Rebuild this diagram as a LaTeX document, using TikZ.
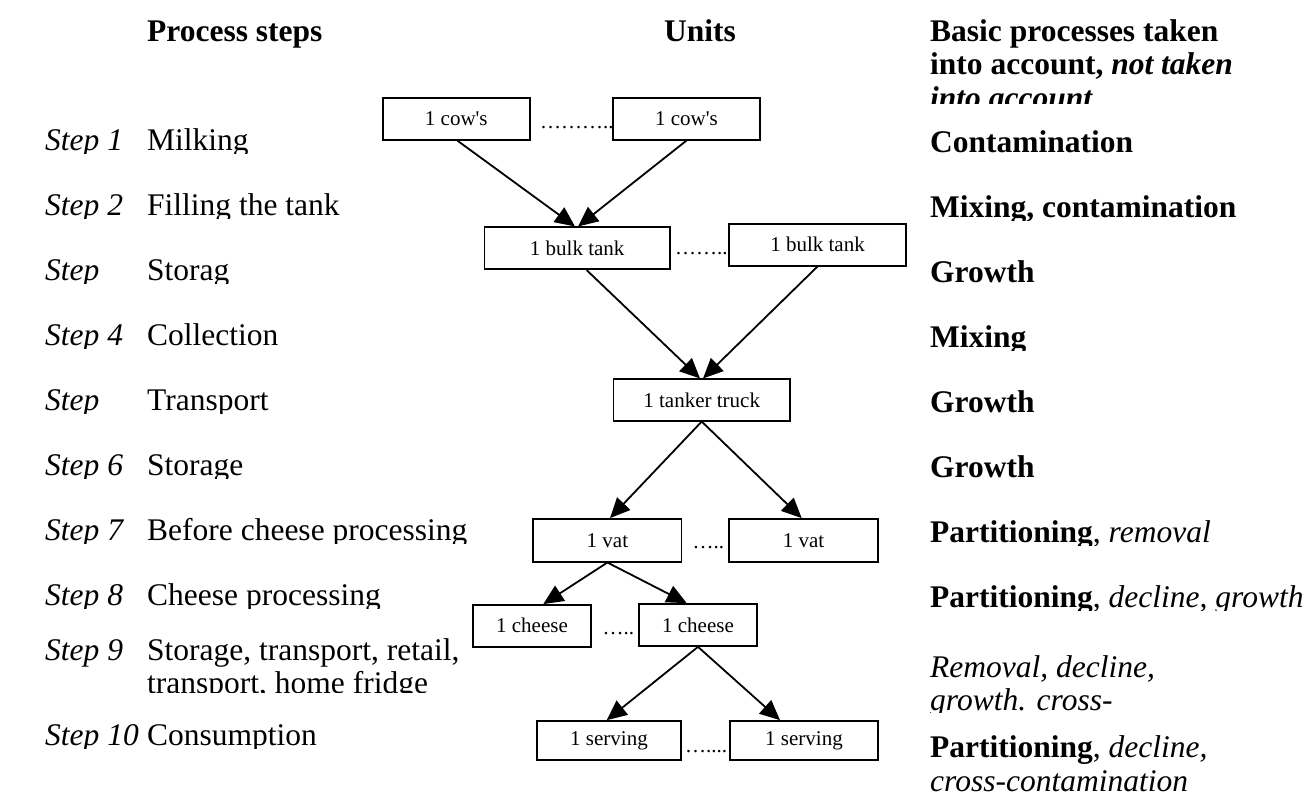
\documentclass[tikz,border=0pt]{standalone}
\usepackage{fontspec}
\setmainfont{Liberation Serif}
\usetikzlibrary{arrows.meta}
\tikzset{
  txt/.style={anchor=base west, inner sep=0pt, font=\fontsize{31.5}{36}\selectfont},
  steplbl/.style={txt, font=\fontsize{31.5}{36}\selectfont\itshape},
  hdr/.style={txt, font=\fontsize{31.5}{36}\selectfont\bfseries},
  unitbox/.style={draw, line width=1.7pt, inner sep=0pt, font=\fontsize{21}{24}\selectfont},
  dotsl/.style={anchor=base west, inner sep=0pt, font=\fontsize{21}{24}\selectfont},
  flow/.style={line width=1.8pt, -{Triangle[length=20pt,width=18pt]}}
}
\newcommand{\cliptxt}[6]{%
  \begin{scope}\clip (#2-10,#3-45) rectangle (#2+600,#4);
  \node[#5] (#1) at (#2,#3) {#6};
  \end{scope}}
\begin{document}
\begin{tikzpicture}[x=1pt,y=-1pt]
\useasboundingbox (0,0) rectangle (1313,807);
% headers
\node[hdr] (hsteps) at (147,41) {Process steps};
\node[hdr, anchor=base] (hunits) at (700,41) {Units};
\node[hdr] (hbasic1) at (930,41) {Basic processes taken};
\node[hdr] (hbasic2) at (930,74) {into account, \textit{not taken}};
\cliptxt{hbasic3}{930}{108}{103}{hdr}{\textit{into account}}
% left column
\cliptxt{s1}{45}{150}{153.5}{steplbl}{Step 1}
\cliptxt{p1}{147}{150}{153.5}{txt}{Milking}
\cliptxt{s2}{45}{215}{218.5}{steplbl}{Step 2}
\cliptxt{p2}{147}{215}{218.5}{txt}{Filling the tank}
\cliptxt{s3}{45}{280}{283.5}{steplbl}{Step}
\cliptxt{p3}{147}{280}{283.5}{txt}{Storag}
\cliptxt{s4}{45}{345}{348.5}{steplbl}{Step 4}
\cliptxt{p4}{147}{345}{348.5}{txt}{Collection}
\cliptxt{s5}{45}{410}{413.5}{steplbl}{Step}
\cliptxt{p5}{147}{410}{413.5}{txt}{Transport}
\cliptxt{s6}{45}{475}{478.5}{steplbl}{Step 6}
\cliptxt{p6}{147}{475}{478.5}{txt}{Storage}
\cliptxt{s7}{45}{540}{543.5}{steplbl}{Step 7}
\cliptxt{p7}{147}{540}{543.5}{txt}{Before cheese processing}
\cliptxt{s8}{45}{605}{608.5}{steplbl}{Step 8}
\cliptxt{p8}{147}{605}{608.5}{txt}{Cheese processing}
\node[steplbl] (s9) at (45,660) {Step 9};
\node[txt] (p9a) at (147,660) {Storage, transport, retail,};
\cliptxt{p9b}{147}{693}{692}{txt}{transport, home fridge}
\cliptxt{s10}{45}{745}{748.5}{steplbl}{Step 10}
\cliptxt{p10}{147}{745}{748.5}{txt}{Consumption}
% right column
\node[hdr] (r1) at (930,152) {Contamination};
\cliptxt{r2}{930}{217}{220.5}{hdr}{Mixing, contamination}
\node[hdr] (r3) at (930,282) {Growth};
\cliptxt{r4}{930}{347}{350.5}{hdr}{Mixing}
\node[hdr] (r5) at (930,412) {Growth};
\node[hdr] (r6) at (930,477) {Growth};
\cliptxt{r7}{930}{542}{545.5}{txt}{\textbf{Partitioning}, \textit{removal}}
\cliptxt{r8}{930}{607}{610.5}{txt}{\textbf{Partitioning}, \textit{decline, growth}}
\node[txt] (r9a) at (930,677) {\textit{Removal, decline,}};
\cliptxt{r9b}{930}{710}{712}{txt}{\textit{growth. cross-}}
\node[txt] (r10a) at (930,757) {\textbf{Partitioning}, \textit{decline,}};
\node[txt] (r10b) at (930,791) {\textit{cross-contamination}};
% unit boxes
\node[unitbox, minimum width=147.3pt, minimum height=41.4pt] (cowL) at (456.3,119) {1 cow\textquotesingle s};
\node[unitbox, minimum width=147.6pt, minimum height=41.4pt] (cowR) at (686.5,119) {1 cow\textquotesingle s};
\node[unitbox, minimum width=185.7pt, minimum height=42pt] (bulkL) at (577.2,248.3) {1 bulk tank};
\node[unitbox, minimum width=176.4pt, minimum height=41.7pt] (bulkR) at (817.5,244.8) {1 bulk tank};
\node[unitbox, minimum width=176.7pt, minimum height=41.4pt] (truck) at (701.7,400) {1 tanker truck};
\node[unitbox, minimum width=148.2pt, minimum height=42.7pt] (vatL) at (607.4,540.3) {1 vat};
\node[unitbox, minimum width=148.5pt, minimum height=42.7pt] (vatR) at (803.5,540.3) {1 vat};
\node[unitbox, minimum width=117.4pt, minimum height=41.7pt] (cheeseL) at (532,625.8) {1 cheese};
\node[unitbox, minimum width=117.4pt, minimum height=42pt] (cheeseR) at (698,625) {1 cheese};
\node[unitbox, minimum width=144pt, minimum height=39pt] (servL) at (609,740.5) {1 serving};
\node[unitbox, minimum width=148pt, minimum height=39pt] (servR) at (804,740.5) {1 serving};
% dots
\node[dotsl] (d1) at (540,128) {………..};
\node[dotsl] (d2) at (675,254.5) {……..};
\node[dotsl] (d3) at (692.5,548) {…..};
\node[dotsl] (d4) at (602.5,634.5) {…..};
\node[dotsl] (d5) at (685,752) {…....};
% connectors
\draw[flow] ([xshift=1pt]cowL.south) -- ([xshift=-2.2pt]bulkL.north);
\draw[flow] (cowR.south) -- ([xshift=0.8pt]bulkL.north);
\draw[flow] ([xshift=9.5pt]bulkL.south) -- ([xshift=-1.7pt]truck.north);
\draw[flow] (bulkR.south) -- ([xshift=1.3pt]truck.north);
\draw[flow] (truck.south) -- ([xshift=2.6pt]vatL.north);
\draw[flow] (truck.south) -- ([xshift=-1.8pt]vatR.north);
\draw[flow] (vatL.south) -- ([xshift=11.3pt]cheeseL.north);
\draw[flow] (vatL.south) -- ([xshift=-11.3pt]cheeseR.north);
\draw[flow] (cheeseR.south) -- ([xshift=-2.3pt]servL.north);
\draw[flow] (cheeseR.south) -- ([xshift=-24pt]servR.north);
\end{tikzpicture}
\end{document}
